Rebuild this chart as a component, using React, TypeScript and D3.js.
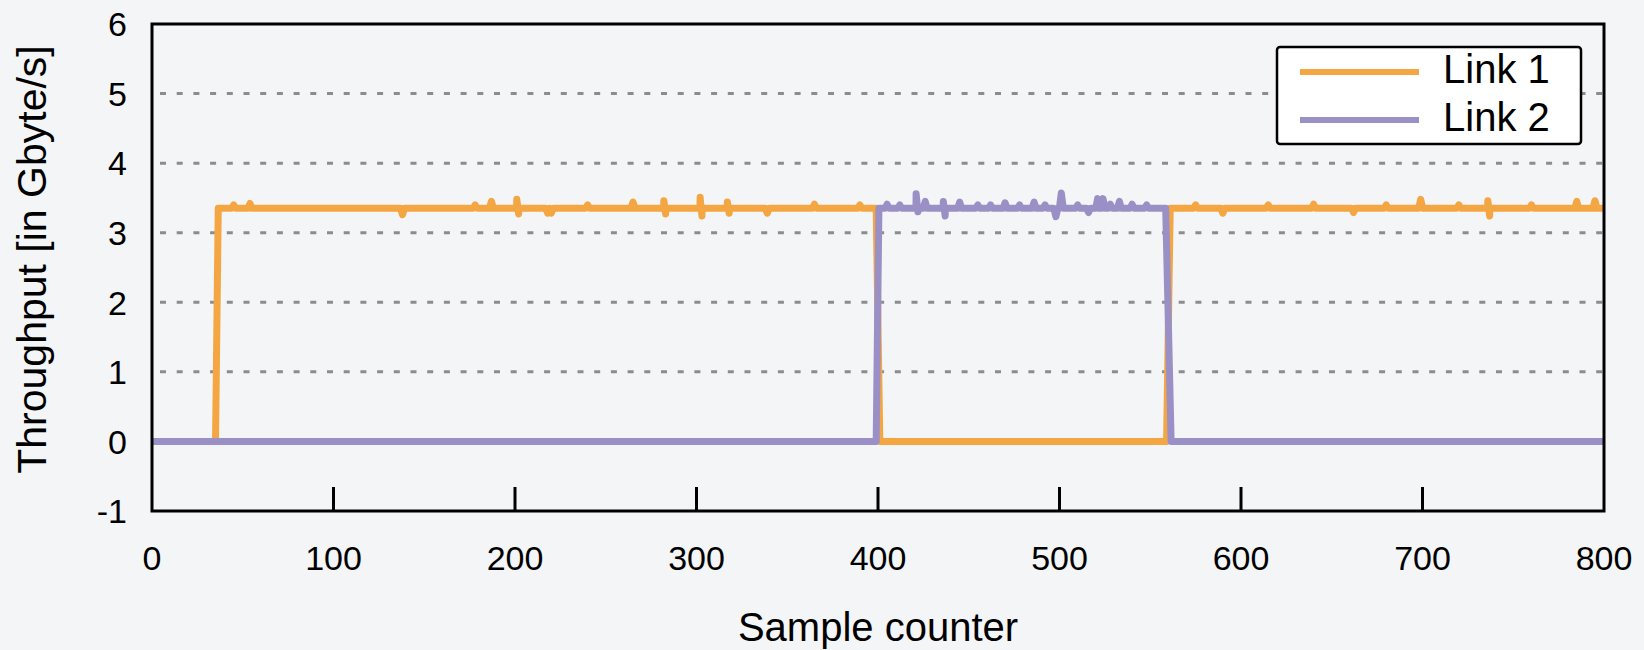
import React, { useEffect, useRef } from 'react';
import * as d3 from 'd3';

// level reached by a link when it is carrying traffic
const activeLevel = 3.35;

// [sample, Gbyte/s] corner points of each link
const link1Steps: [number, number][] = [
  [0, 0], [35, 0], [36.5, activeLevel], [399, activeLevel], [401, 0],
  [559, 0], [561, activeLevel], [800, activeLevel],
];
const link2Steps: [number, number][] = [
  [0, 0], [399, 0], [400.5, activeLevel], [558.5, activeLevel], [561.5, 0], [800, 0],
];

// visible spikes on top of the active level [sample, Gbyte/s]
const link1Spikes: [number, number][] = [
  [45, 3.4], [54, 3.42], [138, 3.26], [178, 3.4], [187, 3.45], [201, 3.48], [202, 3.27],
  [218, 3.28], [220, 3.28], [240, 3.4], [265, 3.44], [282, 3.46], [283, 3.27],
  [302, 3.51], [303, 3.24], [317, 3.44], [318, 3.28], [339, 3.28], [365, 3.41], [390, 3.4],
  [575, 3.4], [590, 3.28], [615, 3.4], [640, 3.41], [662, 3.29], [680, 3.4], [699, 3.48],
  [720, 3.4], [736, 3.46], [737, 3.24], [760, 3.4], [785, 3.45], [795, 3.46],
];
const link2Spikes: [number, number][] = [
  [405, 3.41], [412, 3.4], [421, 3.56], [422, 3.3], [426, 3.45], [436, 3.45], [437, 3.24],
  [445, 3.44], [455, 3.4], [462, 3.4], [470, 3.43], [478, 3.4], [486, 3.44], [492, 3.4],
  [498, 3.23], [501, 3.57], [510, 3.4], [516, 3.29], [521, 3.49], [522.5, 3.39], [524, 3.49],
  [528, 3.41], [533, 3.45], [540, 3.41], [548, 3.4],
];

const xTicks = [0, 100, 200, 300, 400, 500, 600, 700, 800];
const yTicks = [-1, 0, 1, 2, 3, 4, 5, 6];
const gridValues = [1, 2, 3, 4, 5];

const seriesNames = ['Link 1', 'Link 2'];
const seriesColors = ['#f4a643', '#9b90c6'];

// merge the step corners with the spikes, each spike sitting on the active level
function buildSeries(steps: [number, number][], spikes: [number, number][]) {
  const pts: [number, number][] = [...steps];
  spikes.forEach(([s, v]) => {
    pts.push([s - 1.1, activeLevel], [s, v], [s + 1.1, activeLevel]);
  });
  return pts.sort((a, b) => a[0] - b[0]);
}

const FONT = "'Liberation Sans', Arial, sans-serif";

const ThroughputChart = ({ width = 1644, height = 650 }) => {
  const svgRef = useRef<SVGSVGElement>(null);

  useEffect(() => {
    const svg = d3.select(svgRef.current);
    svg.selectAll('*').remove();

    const left = 152, right = 1604, top = 24, bottom = 511;

    svg.append('rect').attr('width', width).attr('height', height).attr('fill', '#f4f5f7');

    const x = d3.scaleLinear().domain([0, 800]).range([left, right]);
    const y = d3.scaleLinear().domain([-1, 6]).range([bottom, top]);

    // dashed grid
    svg.append('g')
      .selectAll('line')
      .data(gridValues)
      .enter().append('line')
      .attr('x1', left + 8)
      .attr('x2', right)
      .attr('y1', d => y(d))
      .attr('y2', d => y(d))
      .attr('stroke', '#8c8c8c')
      .attr('stroke-width', 3)
      .attr('stroke-dasharray', '6 10.7');

    // lines
    const line = d3.line<[number, number]>().x(d => x(d[0])).y(d => y(d[1]));
    const series = [buildSeries(link1Steps, link1Spikes), buildSeries(link2Steps, link2Spikes)];
    series.forEach((pts, i) => {
      svg.append('path')
        .datum(pts)
        .attr('d', line)
        .attr('fill', 'none')
        .attr('stroke', seriesColors[i])
        .attr('stroke-width', 7)
        .attr('stroke-linejoin', 'round');
    });

    // frame
    svg.append('rect')
      .attr('x', left).attr('y', top)
      .attr('width', right - left).attr('height', bottom - top)
      .attr('fill', 'none').attr('stroke', '#000').attr('stroke-width', 3);

    // x ticks pointing inward
    svg.append('g')
      .selectAll('line')
      .data(xTicks.slice(1, -1))
      .enter().append('line')
      .attr('x1', d => x(d)).attr('x2', d => x(d))
      .attr('y1', bottom).attr('y2', bottom - 24)
      .attr('stroke', '#000').attr('stroke-width', 3);

    svg.append('g')
      .selectAll('text')
      .data(xTicks)
      .enter().append('text')
      .attr('x', d => x(d))
      .attr('y', 570)
      .attr('text-anchor', 'middle')
      .attr('font-family', FONT)
      .attr('font-size', 34)
      .text(d => d);

    svg.append('g')
      .selectAll('text')
      .data(yTicks)
      .enter().append('text')
      .attr('x', 127)
      .attr('y', d => y(d))
      .attr('dy', '0.36em')
      .attr('text-anchor', 'end')
      .attr('font-family', FONT)
      .attr('font-size', 34)
      .text(d => d);

    // axis titles
    svg.append('text')
      .attr('x', (left + right) / 2)
      .attr('y', 641)
      .attr('text-anchor', 'middle')
      .attr('font-family', FONT)
      .attr('font-size', 40)
      .text('Sample counter');

    svg.append('text')
      .attr('transform', `translate(46,${(top + bottom) / 2 - 8}) rotate(-90)`)
      .attr('text-anchor', 'middle')
      .attr('font-family', FONT)
      .attr('font-size', 41)
      .text('Throughput [in Gbyte/s]');

    // legend
    const lg = svg.append('g');
    lg.append('rect')
      .attr('x', 1277).attr('y', 47).attr('width', 304).attr('height', 97)
      .attr('rx', 3)
      .attr('fill', '#fff').attr('stroke', '#000').attr('stroke-width', 2.5);
    seriesNames.forEach((name, i) => {
      const ly = 72 + i * 48;
      lg.append('line')
        .attr('x1', 1300).attr('x2', 1419).attr('y1', ly).attr('y2', ly)
        .attr('stroke', seriesColors[i]).attr('stroke-width', 6);
      lg.append('text')
        .attr('x', 1443).attr('y', ly + 11)
        .attr('font-family', FONT)
        .attr('font-size', 40)
        .text(name);
    });
  }, [width, height]);

  return (
    <svg ref={svgRef} width={width} height={height}
      style={{ position: 'absolute', left: 0, top: 0, display: 'block' }} />
  );
};

export default function App() {
  return <ThroughputChart />;
}
